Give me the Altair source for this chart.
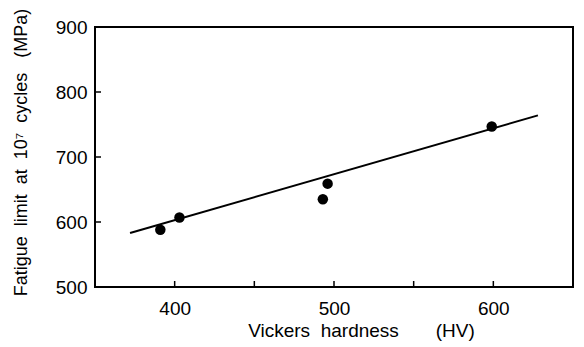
import altair as alt
import pandas as pd

hv = [391, 403, 493, 496, 599]
fatigue = [588, 607, 635, 659, 747]

fit_hv = [372, 628]
fit_limit = [583, 764]

x_ticks = [400, 450, 500, 550, 600]
y_ticks = [600, 700, 800]

pts = pd.DataFrame({"hv": hv, "fl": fatigue})
fit = pd.DataFrame({"hv": fit_hv, "fl": fit_limit})
xt = pd.DataFrame({"hv": x_ticks})
yt = pd.DataFrame({"fl": y_ticks})

FONT = "Liberation Sans"
W, H = 478, 260
NB = "\u00a0"

xscale = alt.Scale(domain=[350, 650], nice=False, zero=False)
yscale = alt.Scale(domain=[500, 900], nice=False, zero=False)

xaxis = alt.Axis(
    values=[400, 500, 600], ticks=False, domain=False, grid=False,
    labelFont=FONT, labelFontSize=19, labelColor="black", labelPadding=12,
    title=f"Vickers{NB}{NB}hardness{NB*7}(HV)", titleFont=FONT, titleFontSize=19,
    titleFontWeight="normal", titleColor="black",
    titleX=266, titleY=43, titleBaseline="middle", titleAlign="center",
)
yaxis = alt.Axis(
    values=[500, 600, 700, 800, 900], ticks=False, domain=False, grid=False,
    labelFont=FONT, labelFontSize=19, labelColor="black", labelPadding=8,
    title=f"Fatigue{NB}{NB}limit{NB}{NB}at{NB}{NB}10⁷{NB}{NB}cycles{NB*3}(MPa)",
    titleFont=FONT, titleFontSize=18,
    titleFontWeight="normal", titleColor="black",
    titleX=-74, titleY=125, titleBaseline="middle", titleAlign="center", titleAngle=270,
)

points = alt.Chart(pts).mark_point(filled=True, color="black", size=110, opacity=1).encode(
    x=alt.X("hv:Q", scale=xscale, axis=xaxis),
    y=alt.Y("fl:Q", scale=yscale, axis=yaxis),
)

line = alt.Chart(fit).mark_line(color="black", strokeWidth=2).encode(
    x=alt.X("hv:Q", scale=xscale),
    y=alt.Y("fl:Q", scale=yscale),
)

xticks = alt.Chart(xt).mark_rule(color="black", strokeWidth=1.5).encode(
    x=alt.X("hv:Q", scale=xscale),
    y=alt.value(H), y2=alt.value(H - 6),
)
yticks = alt.Chart(yt).mark_rule(color="black", strokeWidth=1.5).encode(
    y=alt.Y("fl:Q", scale=yscale),
    x=alt.value(0), x2=alt.value(6),
)

chart = alt.layer(xticks, yticks, line, points).properties(
    width=W, height=H,
    autosize=alt.AutoSizeParams(type="none"),
    padding={"left": 95, "top": 27, "right": 11, "bottom": 60},
    background="white",
).configure_view(stroke="black", strokeWidth=2)

chart.save("out.html", embed_options={"renderer": "svg", "actions": False})
